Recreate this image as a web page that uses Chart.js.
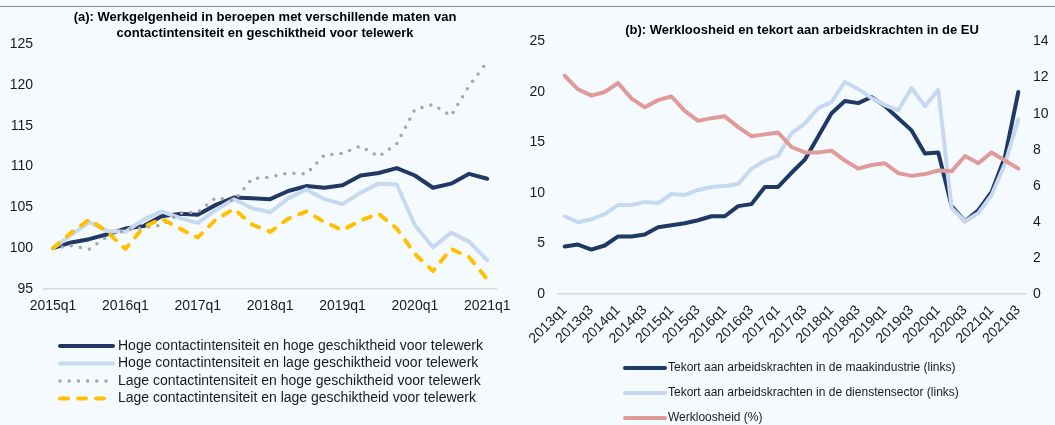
<!DOCTYPE html>
<html>
<head>
<meta charset="utf-8">
<script src="https://cdn.jsdelivr.net/npm/chart.js@4.4.1/dist/chart.umd.min.js"></script>
<style>
html, body { margin: 0; padding: 0; background: #f5faff; }
#wrap { position: relative; width: 1055px; height: 425px; overflow: hidden; }
.rule { position: absolute; left: 0; top: 6px; width: 1055px; border-top: 1.5px solid #8a8a8a; }
#chartA { position: absolute; left: 0; top: 0; }
#chartB { position: absolute; left: 520px; top: 0; }
</style>
</head>
<body>
<div id="wrap">
  <div class="rule"></div>
  <canvas id="chartA" width="520" height="425"></canvas>
  <canvas id="chartB" width="535" height="425"></canvas>
</div>
<script>
// ---- panel (a) data ----
const quartersA = [
    '2015q1', '2015q2', '2015q3', '2015q4', '2016q1', '2016q2', '2016q3', '2016q4',
    '2017q1', '2017q2', '2017q3', '2017q4', '2018q1', '2018q2', '2018q3', '2018q4',
    '2019q1', '2019q2', '2019q3', '2019q4', '2020q1', '2020q2', '2020q3', '2020q4', '2021q1'
];
const hogeHoge = [100, 100.7, 101.1, 101.7, 102.4, 102.7, 103.9, 104.2, 104.1, 105.3, 106.2, 106.1,
    106.0, 107.0, 107.6, 107.4, 107.7, 108.9, 109.2, 109.8, 108.9, 107.4, 107.9, 109.1, 108.5];
const hogeLage = [100, 101.6, 103.2, 102.1, 102.0, 103.5, 104.5, 103.7, 103.1, 104.7, 106.0, 104.9,
    104.4, 106.1, 107.2, 106.0, 105.4, 106.8, 107.9, 107.8, 102.8, 100.1, 101.9, 100.8, 98.5];
const lageHoge = [100, 100.3, 99.9, 101.4, 102.2, 102.5, 102.8, 104.3, 104.4, 106.2, 105.8, 108.5,
    108.7, 109.2, 109.1, 111.4, 111.6, 112.5, 111.2, 112.8, 117.0, 117.6, 116.2, 119.9, 122.8];
const lageLage = [100, 101.9, 103.5, 102.0, 99.9, 102.6, 103.6, 102.4, 101.3, 103.5, 104.8, 102.9,
    102.0, 103.6, 104.5, 103.2, 102.2, 103.4, 104.2, 102.4, 99.3, 97.2, 99.9, 98.9, 96.2];

// ---- panel (b) data ----
const quartersB = [
    '2013q1', '2013q2', '2013q3', '2013q4', '2014q1', '2014q2', '2014q3', '2014q4',
    '2015q1', '2015q2', '2015q3', '2015q4', '2016q1', '2016q2', '2016q3', '2016q4',
    '2017q1', '2017q2', '2017q3', '2017q4', '2018q1', '2018q2', '2018q3', '2018q4',
    '2019q1', '2019q2', '2019q3', '2019q4', '2020q1', '2020q2', '2020q3', '2020q4',
    '2021q1', '2021q2', '2021q3'
];
const maakindustrie = [4.7, 4.9, 4.4, 4.8, 5.7, 5.7, 5.9, 6.6, 6.8, 7.0, 7.3, 7.7, 7.7, 8.7, 8.9, 10.6,
    10.6, 12.0, 13.3, 15.6, 17.9, 19.1, 18.9, 19.5, 18.6, 17.4, 16.2, 13.9, 14.0, 8.7, 7.2, 8.3,
    10.1, 13.6, 20.0];
const dienstensector = [7.7, 7.1, 7.4, 7.9, 8.8, 8.8, 9.1, 9.0, 9.9, 9.8, 10.3, 10.6, 10.7, 10.9, 12.4, 13.2,
    13.7, 15.9, 16.9, 18.4, 19.0, 21.0, 20.3, 19.4, 18.7, 18.2, 20.4, 18.6, 20.2, 8.5, 7.2, 8.0,
    9.8, 12.9, 17.3];
const werkloosheid = [12.1, 11.35, 11.0, 11.2, 11.7, 10.85, 10.35, 10.75, 10.95, 10.15, 9.6, 9.75, 9.85, 9.25,
    8.75, 8.85, 8.95, 8.15, 7.85, 7.85, 7.95, 7.4, 6.95, 7.15, 7.25, 6.7, 6.55, 6.65, 6.85, 6.8,
    7.65, 7.25, 7.85, 7.4, 6.95];

const titleA = ['(a): Werkgelgenheid in beroepen met verschillende maten van',
                'contactintensiteit en geschiktheid voor telewerk'];
const titleB = ['(b): Werkloosheid en tekort aan arbeidskrachten in de EU'];

const FONT = "'Liberation Sans', Arial, sans-serif";
const TEXT = '#1a1a1a';
const NAVY = '#1f3864';
const LIGHTBLUE = '#c6d9f1';
const GREY = '#a6a6a6';
const YELLOW = '#ffc000';
const ROSE = '#df9a9a';

Chart.defaults.font.family = FONT;
Chart.defaults.color = TEXT;

// Legend drawn by hand so the samples sit in one left-aligned column like the original
const sideLegend = {
    id: 'sideLegend',
    afterDraw(chart, args, opts) {
        const { ctx } = chart;
        chart.data.datasets.forEach((ds, i) => {
            const y = opts.top + i * opts.step;
            ctx.save();
            ctx.strokeStyle = ds.borderColor;
            ctx.lineWidth = ds.borderWidth;
            ctx.lineCap = ds.borderCapStyle || 'round';
            ctx.setLineDash(ds.borderDash || []);
            ctx.beginPath();
            ctx.moveTo(opts.left, y);
            ctx.lineTo(opts.left + opts.lineLength, y);
            ctx.stroke();
            ctx.restore();

            ctx.save();
            ctx.font = opts.fontSize + 'px ' + FONT;
            ctx.fillStyle = TEXT;
            ctx.textBaseline = 'middle';
            ctx.textAlign = 'left';
            ctx.fillText(ds.label, opts.left + opts.lineLength + opts.gap, y);
            ctx.restore();
        });
    }
};

// Panel heading, centred on a given x (the built-in title only centres on the canvas box)
const panelTitle = {
    id: 'panelTitle',
    afterDraw(chart, args, opts) {
        const { ctx } = chart;
        ctx.save();
        ctx.font = 'bold 13px ' + FONT;
        ctx.fillStyle = '#000';
        ctx.textAlign = 'center';
        ctx.textBaseline = 'middle';
        opts.lines.forEach((line, i) => ctx.fillText(line, opts.x, opts.y + i * opts.lineHeight));
        ctx.restore();
    }
};

const lineDefaults = {
    point: { radius: 0, hoverRadius: 0 },
    line: { tension: 0, borderJoinStyle: 'round', borderCapStyle: 'round' }
};

// ---- panel (a) ----
new Chart(document.getElementById('chartA'), {
    type: 'line',
    data: {
        labels: quartersA,
        datasets: [
            { label: 'Hoge contactintensiteit en hoge geschiktheid voor telewerk', data: hogeHoge,
              borderColor: NAVY, borderWidth: 4, order: 4 },
            { label: 'Hoge contactintensiteit en lage geschiktheid voor telewerk', data: hogeLage,
              borderColor: LIGHTBLUE, borderWidth: 4, order: 3 },
            { label: 'Lage contactintensiteit en hoge geschiktheid voor telewerk', data: lageHoge,
              borderColor: GREY, borderWidth: 3.5, borderDash: [0, 9.2], borderCapStyle: 'round', order: 2 },
            { label: 'Lage contactintensiteit en lage geschiktheid voor telewerk', data: lageLage,
              borderColor: YELLOW, borderWidth: 4, borderDash: [8, 10], borderCapStyle: 'round', order: 1 }
        ]
    },
    options: {
        responsive: false,
        animation: false,
        layout: { padding: { left: 0, right: 20, top: 44, bottom: 106 } },
        elements: lineDefaults,
        plugins: {
            legend: { display: false },
            tooltip: { enabled: false },
            panelTitle: { lines: titleA, x: 265, y: 17.5, lineHeight: 16 },
            sideLegend: { left: 60, top: 346, step: 17.5, lineLength: 53, gap: 5, fontSize: 14 }
        },
        scales: {
            x: {
                offset: true,
                grid: { display: false, drawTicks: false },
                border: { display: true, color: '#d9d9d9', width: 1.5 },
                ticks: {
                    autoSkip: false, maxRotation: 0, padding: 9, font: { size: 14 },
                    callback: (v, i) => (i % 4 === 0 ? quartersA[i] : null)
                },
                afterFit: s => { s.height = 30; }
            },
            y: {
                min: 95, max: 125,
                grid: { display: false, drawTicks: false },
                border: { display: false },
                ticks: { stepSize: 5, padding: 11, font: { size: 14 } },
                afterFit: s => { s.width = 44; }
            }
        }
    },
    plugins: [sideLegend, panelTitle]
});

// ---- panel (b) ----
new Chart(document.getElementById('chartB'), {
    type: 'line',
    data: {
        labels: quartersB,
        datasets: [
            { label: 'Tekort aan arbeidskrachten in de maakindustrie (links)', data: maakindustrie,
              borderColor: NAVY, borderWidth: 4, yAxisID: 'y', order: 3 },
            { label: 'Tekort aan arbeidskrachten in de dienstensector (links)', data: dienstensector,
              borderColor: LIGHTBLUE, borderWidth: 4, yAxisID: 'y', order: 2 },
            { label: 'Werkloosheid (%)', data: werkloosheid,
              borderColor: ROSE, borderWidth: 4, yAxisID: 'y1', order: 1 }
        ]
    },
    options: {
        responsive: false,
        animation: false,
        layout: { padding: { left: 0, right: 0, top: 41.5, bottom: 81 } },
        elements: lineDefaults,
        plugins: {
            legend: { display: false },
            tooltip: { enabled: false },
            panelTitle: { lines: titleB, x: 282, y: 30, lineHeight: 16 },
            sideLegend: { left: 105, top: 368, step: 25, lineLength: 40, gap: 3, fontSize: 12 }
        },
        scales: {
            x: {
                offset: true,
                grid: { display: false, drawTicks: false },
                border: { display: true, color: '#d9d9d9', width: 1.5 },
                ticks: {
                    autoSkip: false, minRotation: 45, maxRotation: 45, padding: 8, font: { size: 14 },
                    callback: (v, i) => (i % 2 === 0 ? quartersB[i] : null)
                },
                afterFit: s => { s.height = 50; }
            },
            y: {
                position: 'left',
                min: 0, max: 25,
                grid: { display: false, drawTicks: false },
                border: { display: false },
                ticks: { stepSize: 5, padding: 13, font: { size: 14 } },
                afterFit: s => { s.width = 38; }
            },
            y1: {
                position: 'right',
                min: 0, max: 14,
                grid: { display: false, drawTicks: false },
                border: { display: false },
                ticks: { stepSize: 2, padding: 8, font: { size: 14 } },
                afterFit: s => { s.width = 30; }
            }
        }
    },
    plugins: [sideLegend, panelTitle]
});
</script>
</body>
</html>
